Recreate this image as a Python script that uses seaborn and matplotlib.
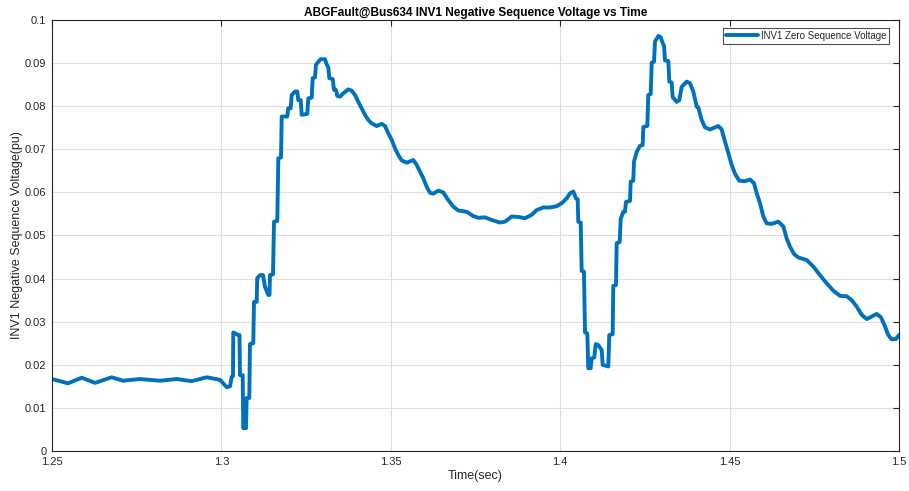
import matplotlib
matplotlib.use("Agg")
import matplotlib.pyplot as plt
import seaborn as sns
import pandas as pd

# INV1 negative sequence voltage during the ABG fault at bus 634
time_s = [
    1.2500, 1.25472, 1.25877, 1.26269, 1.26762, 1.27096, 1.2760, 1.2819, 1.2868, 1.2912,
    1.2957, 1.2996, 1.30157, 1.30254, 1.30304, 1.30342, 1.30351, 1.30499, 1.30534, 1.30549,
    1.30628, 1.30646, 1.30726, 1.30746, 1.30823, 1.30844, 1.30941, 1.30962, 1.31041, 1.31059,
    1.31139, 1.31228, 1.31287, 1.31384, 1.3142, 1.31434, 1.31523, 1.31553, 1.3165, 1.3168,
    1.3176, 1.3178, 1.31945, 1.31974, 1.32045, 1.32075, 1.32172, 1.3224, 1.3227, 1.3234,
    1.3237, 1.32535, 1.32565, 1.32665, 1.32695, 1.32763, 1.32792, 1.3286, 1.3293, 1.33058,
    1.33108, 1.33155, 1.33185, 1.33285, 1.33323, 1.33382, 1.33421, 1.335, 1.33598, 1.33745,
    1.33846, 1.33943, 1.34041, 1.34141, 1.34238, 1.34336, 1.34436, 1.34584, 1.34731, 1.34829,
    1.34926, 1.35027, 1.35124, 1.35221, 1.35322, 1.35469, 1.35664, 1.35764, 1.35862, 1.35959,
    1.36059, 1.36157, 1.36254, 1.36402, 1.36549, 1.36697, 1.36845, 1.36992, 1.3724, 1.37435,
    1.37583, 1.3778, 1.37978, 1.38223, 1.38371, 1.38569, 1.38764, 1.38961, 1.39159, 1.39306,
    1.39501, 1.39699, 1.39897, 1.40044, 1.40192, 1.40289, 1.40387, 1.40466, 1.40516, 1.40534,
    1.40605, 1.40634, 1.40702, 1.40732, 1.40800, 1.40829, 1.409, 1.40929, 1.41006, 1.41047,
    1.41124, 1.41225, 1.41254, 1.41420, 1.41449, 1.41549, 1.41567, 1.41647, 1.41667, 1.41756,
    1.41785, 1.41862, 1.41912, 1.41942, 1.4206, 1.4208, 1.42157, 1.42178, 1.42258, 1.42355,
    1.42435, 1.42453, 1.42571, 1.426, 1.42671, 1.42701, 1.42769, 1.42798, 1.42896, 1.42967,
    1.43026, 1.43064, 1.43093, 1.43191, 1.43221, 1.4329, 1.4332, 1.43438, 1.43515, 1.43586,
    1.43734, 1.43831, 1.43929, 1.44028, 1.44076, 1.44176, 1.44274, 1.44421, 1.44666, 1.44766,
    1.44864, 1.44962, 1.45062, 1.4516, 1.45286, 1.45455, 1.45602, 1.4572, 1.458, 1.45897,
    1.45995, 1.46095, 1.46243, 1.46438, 1.46586, 1.46685, 1.46783, 1.46901, 1.47028, 1.47276,
    1.47470, 1.47668, 1.47866, 1.48061, 1.48259, 1.48456, 1.48603, 1.48751, 1.48899, 1.49046,
    1.49194, 1.49341, 1.49469, 1.49587, 1.49684, 1.49784, 1.4991, 1.5000,
]
voltage_pu = [
    0.0167, 0.0157, 0.0170, 0.0158, 0.0171, 0.0163, 0.0167, 0.0163, 0.0167, 0.0162,
    0.0171, 0.0165, 0.0148, 0.0150, 0.0172, 0.0174, 0.0275, 0.0269, 0.0269, 0.0176,
    0.0176, 0.0053, 0.0053, 0.0123, 0.0123, 0.0248, 0.0250, 0.0346, 0.0346, 0.0401,
    0.0408, 0.0408, 0.0381, 0.0362, 0.0362, 0.0408, 0.0410, 0.0532, 0.0534, 0.0679,
    0.0681, 0.0776, 0.0776, 0.0795, 0.0795, 0.0826, 0.0834, 0.0834, 0.0814, 0.0814,
    0.0780, 0.0782, 0.0818, 0.0820, 0.0865, 0.0867, 0.0896, 0.0903, 0.0909, 0.0909,
    0.0897, 0.0890, 0.0865, 0.0863, 0.0838, 0.0838, 0.0824, 0.0822, 0.0830, 0.0839,
    0.0836, 0.0826, 0.0810, 0.0795, 0.0780, 0.0768, 0.0760, 0.0754, 0.0759, 0.0754,
    0.0737, 0.0722, 0.0702, 0.0687, 0.0674, 0.0669, 0.0675, 0.0664, 0.0648, 0.0633,
    0.0613, 0.0599, 0.0597, 0.0604, 0.0600, 0.0582, 0.0567, 0.0558, 0.0555, 0.0545,
    0.0541, 0.0542, 0.0536, 0.0530, 0.0532, 0.0544, 0.0543, 0.0540, 0.0548, 0.0559,
    0.0565, 0.0565, 0.0568, 0.0575, 0.0586, 0.0598, 0.0602, 0.0586, 0.0584, 0.0532,
    0.0530, 0.0418, 0.0416, 0.0275, 0.0273, 0.0192, 0.0192, 0.0215, 0.0217, 0.0248,
    0.0246, 0.0234, 0.0200, 0.0196, 0.0269, 0.0271, 0.0383, 0.0385, 0.0482, 0.0485,
    0.0538, 0.0555, 0.0555, 0.0578, 0.0580, 0.0625, 0.0627, 0.0671, 0.0694, 0.0708,
    0.0710, 0.0752, 0.0754, 0.0826, 0.0828, 0.0901, 0.0903, 0.0950, 0.0963, 0.0960,
    0.0946, 0.0940, 0.0906, 0.0905, 0.0857, 0.0855, 0.0821, 0.0810, 0.0814, 0.0845,
    0.0857, 0.0853, 0.0834, 0.0799, 0.0797, 0.0768, 0.0751, 0.0746, 0.0754, 0.0746,
    0.0718, 0.0691, 0.0664, 0.0643, 0.0627, 0.0626, 0.0630, 0.0621, 0.0598, 0.0575,
    0.0544, 0.0528, 0.0527, 0.0532, 0.0521, 0.0493, 0.0474, 0.0457, 0.0449, 0.0443,
    0.0428, 0.0408, 0.0389, 0.0372, 0.0360, 0.0359, 0.0350, 0.0335, 0.0316, 0.0306,
    0.0312, 0.0318, 0.0310, 0.0289, 0.0269, 0.0259, 0.0260, 0.0269,
]

x_ticks = [1.25, 1.3, 1.35, 1.4, 1.45, 1.5]
x_tick_labels = ["1.25", "1.3", "1.35", "1.4", "1.45", "1.5"]
y_ticks = [0, 0.01, 0.02, 0.03, 0.04, 0.05, 0.06, 0.07, 0.08, 0.09, 0.1]
y_tick_labels = ["0", "0.01", "0.02", "0.03", "0.04", "0.05", "0.06", "0.07", "0.08", "0.09", "0.1"]
series_name = "INV1 Zero Sequence Voltage"

df = pd.DataFrame({"Time(sec)": time_s, "Voltage": voltage_pu, "series": series_name})

sns.set_style("white")
plt.rcParams["font.family"] = ["Liberation Sans", "DejaVu Sans"]

fig = plt.figure(figsize=(9.09, 4.91), dpi=100)
ax = fig.add_axes([0.0572, 0.0815, 0.9318, 0.8778])

sns.lineplot(data=df, x="Time(sec)", y="Voltage", hue="series",
             palette=["#0072BD"], linewidth=2.8, estimator=None, sort=False,
             ax=ax)

ax.set_xlim(1.25, 1.5)
ax.set_ylim(0, 0.1)
ax.set_xticks(x_ticks)
ax.set_xticklabels(x_tick_labels)
ax.set_yticks(y_ticks)
ax.set_yticklabels(y_tick_labels)

ax.grid(True, color="#DFDFDF", linewidth=0.8)
ax.set_axisbelow(True)

text_col = "#262626"
for sp in ax.spines.values():
    sp.set_visible(True)
    sp.set_color(text_col)
    sp.set_linewidth(0.8)
ax.tick_params(direction="in", length=4, width=0.8, colors=text_col,
               labelsize=8, top=True, right=True, pad=4)

ax.set_xlabel("Time(sec)", fontsize=9, color=text_col, labelpad=2.5)
ax.set_ylabel("INV1 Negative Sequence Voltage(pu)", fontsize=9, color=text_col, labelpad=1.5)
ax.set_title("ABGFault@Bus634 INV1 Negative Sequence Voltage vs Time",
             fontsize=8.6, fontweight="bold", color="black", pad=3)

leg = ax.legend(loc="upper right", fontsize=7, frameon=True, fancybox=False,
                handlelength=3.3, borderpad=0.3, handletextpad=0.3,
                bbox_to_anchor=(0.9945, 0.993))
leg.get_frame().set_edgecolor(text_col)
leg.get_frame().set_linewidth(0.8)
for t in leg.get_texts():
    t.set_color(text_col)

fig.savefig("out.png", dpi=100)
